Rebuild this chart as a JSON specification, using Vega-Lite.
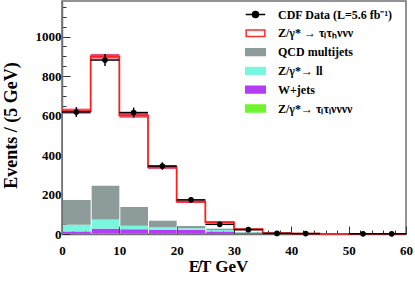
{
  "$schema": "https://vega.github.io/schema/vega-lite/v6.json",
  "width": 344,
  "height": 233,
  "autosize": "none",
  "padding": {"left": 62, "top": 1, "right": 9, "bottom": 52},
  "background": "white",
  "config": {
    "view": {"stroke": "#707070", "strokeWidth": 1.5},
    "axis": {"grid": false},
    "legend": {"orient": "none", "legendX": 184, "legendY": 4, "padding": 0,
      "symbolSize": 289, "symbolStrokeWidth": 1.5, "symbolOpacity": 1,
      "labelFont": "Liberation Serif", "labelFontWeight": "bold", "labelFontSize": 12, "labelColor": "black",
      "labelOffset": 13, "rowPadding": 2.8, "labelLimit": 300}
  },
  "datasets": {
    "stack": [
      {"lo": 0, "hi": 5, "comp": "Z/γ*→ τₗτₗνννν", "ord": 1, "n": 2},
      {"lo": 0, "hi": 5, "comp": "W+jets", "ord": 2, "n": 11},
      {"lo": 0, "hi": 5, "comp": "Z/γ*→ ll", "ord": 3, "n": 34},
      {"lo": 0, "hi": 5, "comp": "QCD multijets", "ord": 4, "n": 126},
      {"lo": 0, "hi": 5, "comp": "Z/γ* → τₗτₕννν", "ord": 5, "n": 449},
      {"lo": 5, "hi": 10, "comp": "Z/γ*→ τₗτₗνννν", "ord": 1, "n": 3},
      {"lo": 5, "hi": 10, "comp": "W+jets", "ord": 2, "n": 24},
      {"lo": 5, "hi": 10, "comp": "Z/γ*→ ll", "ord": 3, "n": 47},
      {"lo": 5, "hi": 10, "comp": "QCD multijets", "ord": 4, "n": 172},
      {"lo": 5, "hi": 10, "comp": "Z/γ* → τₗτₕννν", "ord": 5, "n": 654},
      {"lo": 10, "hi": 15, "comp": "Z/γ*→ τₗτₗνννν", "ord": 1, "n": 3},
      {"lo": 10, "hi": 15, "comp": "W+jets", "ord": 2, "n": 21},
      {"lo": 10, "hi": 15, "comp": "Z/γ*→ ll", "ord": 3, "n": 18},
      {"lo": 10, "hi": 15, "comp": "QCD multijets", "ord": 4, "n": 95},
      {"lo": 10, "hi": 15, "comp": "Z/γ* → τₗτₕννν", "ord": 5, "n": 464},
      {"lo": 15, "hi": 20, "comp": "Z/γ*→ τₗτₗνννν", "ord": 1, "n": 2},
      {"lo": 15, "hi": 20, "comp": "W+jets", "ord": 2, "n": 20},
      {"lo": 15, "hi": 20, "comp": "Z/γ*→ ll", "ord": 3, "n": 12},
      {"lo": 15, "hi": 20, "comp": "QCD multijets", "ord": 4, "n": 35},
      {"lo": 15, "hi": 20, "comp": "Z/γ* → τₗτₕννν", "ord": 5, "n": 270},
      {"lo": 20, "hi": 25, "comp": "Z/γ*→ τₗτₗνννν", "ord": 1, "n": 2},
      {"lo": 20, "hi": 25, "comp": "W+jets", "ord": 2, "n": 19},
      {"lo": 20, "hi": 25, "comp": "Z/γ*→ ll", "ord": 3, "n": 8},
      {"lo": 20, "hi": 25, "comp": "QCD multijets", "ord": 4, "n": 12},
      {"lo": 20, "hi": 25, "comp": "Z/γ* → τₗτₕννν", "ord": 5, "n": 123},
      {"lo": 25, "hi": 30, "comp": "Z/γ*→ τₗτₗνννν", "ord": 1, "n": 1},
      {"lo": 25, "hi": 30, "comp": "W+jets", "ord": 2, "n": 12},
      {"lo": 25, "hi": 30, "comp": "Z/γ*→ ll", "ord": 3, "n": 7},
      {"lo": 25, "hi": 30, "comp": "QCD multijets", "ord": 4, "n": 8},
      {"lo": 25, "hi": 30, "comp": "Z/γ* → τₗτₕννν", "ord": 5, "n": 32},
      {"lo": 30, "hi": 35, "comp": "Z/γ*→ τₗτₗνννν", "ord": 1, "n": 1},
      {"lo": 30, "hi": 35, "comp": "W+jets", "ord": 2, "n": 4},
      {"lo": 30, "hi": 35, "comp": "Z/γ*→ ll", "ord": 3, "n": 3},
      {"lo": 30, "hi": 35, "comp": "QCD multijets", "ord": 4, "n": 3},
      {"lo": 30, "hi": 35, "comp": "Z/γ* → τₗτₕννν", "ord": 5, "n": 13},
      {"lo": 35, "hi": 40, "comp": "Z/γ*→ τₗτₗνννν", "ord": 1, "n": 0.5},
      {"lo": 35, "hi": 40, "comp": "W+jets", "ord": 2, "n": 0.5},
      {"lo": 35, "hi": 40, "comp": "Z/γ*→ ll", "ord": 3, "n": 1},
      {"lo": 35, "hi": 40, "comp": "QCD multijets", "ord": 4, "n": 1},
      {"lo": 35, "hi": 40, "comp": "Z/γ* → τₗτₕννν", "ord": 5, "n": 1},
      {"lo": 40, "hi": 45, "comp": "W+jets", "ord": 2, "n": 0.5},
      {"lo": 40, "hi": 45, "comp": "Z/γ*→ ll", "ord": 3, "n": 0.5},
      {"lo": 40, "hi": 45, "comp": "QCD multijets", "ord": 4, "n": 0.5},
      {"lo": 40, "hi": 45, "comp": "Z/γ* → τₗτₕννν", "ord": 5, "n": 0.5}
    ],
    "legendrows": [
      {"comp": "CDF Data (L=5.6 fb⁻¹)"},
      {"comp": "Z/γ* → τₗτₕννν"},
      {"comp": "QCD multijets"},
      {"comp": "Z/γ*→ ll"},
      {"comp": "W+jets"},
      {"comp": "Z/γ*→ τₗτₗνννν"}
    ],
    "mc": [
      {"x": 0, "total": 622}, {"x": 5, "total": 900}, {"x": 10, "total": 601},
      {"x": 15, "total": 339}, {"x": 20, "total": 164}, {"x": 25, "total": 60},
      {"x": 30, "total": 24}, {"x": 35, "total": 4}, {"x": 40, "total": 2},
      {"x": 45, "total": 1}, {"x": 50, "total": 0.5}, {"x": 55, "total": 0.3},
      {"x": 60, "total": 0.3}
    ],
    "band": [
      {"lo": 0, "hi": 5, "blo": 609, "bhi": 635},
      {"lo": 5, "hi": 10, "blo": 888, "bhi": 912},
      {"lo": 10, "hi": 15, "blo": 589, "bhi": 613},
      {"lo": 15, "hi": 20, "blo": 329, "bhi": 349},
      {"lo": 20, "hi": 25, "blo": 157, "bhi": 171},
      {"lo": 25, "hi": 30, "blo": 55, "bhi": 65},
      {"lo": 30, "hi": 35, "blo": 21, "bhi": 27},
      {"lo": 35, "hi": 40, "blo": 2, "bhi": 6},
      {"lo": 40, "hi": 45, "blo": 1, "bhi": 3}
    ],
    "cdf": [
      {"c": 2.5, "lo": 0, "hi": 5, "n": 618, "elo": 593, "ehi": 643},
      {"c": 7.5, "lo": 5, "hi": 10, "n": 881, "elo": 851, "ehi": 911},
      {"c": 12.5, "lo": 10, "hi": 15, "n": 615, "elo": 590, "ehi": 640},
      {"c": 17.5, "lo": 15, "hi": 20, "n": 344, "elo": 325, "ehi": 363},
      {"c": 22.5, "lo": 20, "hi": 25, "n": 173, "elo": 160, "ehi": 186},
      {"c": 27.5, "lo": 25, "hi": 30, "n": 49, "elo": 42, "ehi": 56},
      {"c": 32.5, "lo": 30, "hi": 35, "n": 22, "elo": 17, "ehi": 27},
      {"c": 37.5, "lo": 35, "hi": 40, "n": 3, "elo": 1, "ehi": 5},
      {"c": 42.5, "lo": 40, "hi": 45, "n": 2, "elo": 0.5, "ehi": 3.5},
      {"c": 52.5, "lo": 50, "hi": 55, "n": 1, "elo": 0, "ehi": 2},
      {"c": 57.5, "lo": 55, "hi": 60, "n": 1, "elo": 0, "ehi": 2}
    ]
  },
  "layer": [
    {
      "data": {"name": "stack"},
      "mark": {"type": "bar"},
      "encoding": {
        "x": {"field": "lo", "type": "quantitative", "bin": "binned", "title": "E̸T GeV", "scale": {"domain": [0, 60], "nice": false, "zero": false},
          "axis": {"values": [0,2,4,6,8,10,12,14,16,18,20,22,24,26,28,30,32,34,36,38,40,42,44,46,48,50,52,54,56,58,60], "labelExpr": "datum.value % 10 === 0 ? datum.label : ''", "labelOverlap": false, "tickSize": {"condition": {"test": "datum.value % 10 === 0", "value": -8}, "value": -4}, "tickColor": "#333333", "domainColor": "#707070", "domainWidth": 1.5, "labelFont": "Liberation Serif", "labelFontWeight": "bold", "labelFontSize": 13, "labelColor": "black", "labelPadding": 18, "labelFlush": false, "titleFont": "Liberation Serif", "titleFontWeight": "bold", "titleFontSize": 17, "titleColor": "black", "titleX": 156, "titleY": 37, "titleBaseline": "alphabetic", "titleAlign": "center"}},
        "x2": {"field": "hi"},
        "y": {"field": "n", "type": "quantitative", "stack": "zero", "title": "Events / (5 GeV)", "scale": {"domain": [0, 1180], "nice": false},
          "axis": {"values": [0,50,100,150,200,250,300,350,400,450,500,550,600,650,700,750,800,850,900,950,1000,1050,1100,1150], "format": "d", "labelExpr": "datum.value % 200 === 0 ? datum.label : ''", "labelOverlap": false, "tickSize": {"condition": {"test": "datum.value % 200 === 0", "value": -8}, "value": -4}, "tickColor": "#333333", "domainColor": "#707070", "domainWidth": 1.5, "labelFont": "Liberation Serif", "labelFontWeight": "bold", "labelFontSize": 13, "labelColor": "black", "labelPadding": 9, "titleFont": "Liberation Serif", "titleFontWeight": "bold", "titleFontSize": 18, "titleColor": "black", "titleX": -46, "titleY": 124, "titleAngle": 270, "titleBaseline": "alphabetic", "titleAlign": "center"}},
        "order": {"field": "ord"},
        "color": {"field": "comp", "type": "nominal", "title": null,
          "scale": {"domain": ["CDF Data (L=5.6 fb⁻¹)", "Z/γ* → τₗτₕννν", "QCD multijets", "Z/γ*→ ll", "W+jets", "Z/γ*→ τₗτₗνννν"], "range": ["#000000", "#ffffff", "#8d9c9a", "#78f7de", "#b43cf2", "#6ef52c"]}}
      }
    },
    {
      "data": {"name": "band"},
      "mark": {"type": "rect", "color": "#dc2a56", "opacity": 0.8},
      "encoding": {
        "x": {"field": "lo", "type": "quantitative", "title": "E̸T GeV", "scale": {"domain": [0, 60], "nice": false, "zero": false},
          "axis": {"values": [0,2,4,6,8,10,12,14,16,18,20,22,24,26,28,30,32,34,36,38,40,42,44,46,48,50,52,54,56,58,60], "labelExpr": "datum.value % 10 === 0 ? datum.label : ''", "labelOverlap": false, "tickSize": {"condition": {"test": "datum.value % 10 === 0", "value": -8}, "value": -4}, "tickColor": "#333333", "domainColor": "#707070", "domainWidth": 1.5, "labelFont": "Liberation Serif", "labelFontWeight": "bold", "labelFontSize": 13, "labelColor": "black", "labelPadding": 18, "labelFlush": false, "titleFont": "Liberation Serif", "titleFontWeight": "bold", "titleFontSize": 17, "titleColor": "black", "titleX": 156, "titleY": 37, "titleBaseline": "alphabetic", "titleAlign": "center"}},
        "x2": {"field": "hi"},
        "y": {"field": "blo", "type": "quantitative", "title": "Events / (5 GeV)", "scale": {"domain": [0, 1180], "nice": false},
          "axis": {"values": [0,50,100,150,200,250,300,350,400,450,500,550,600,650,700,750,800,850,900,950,1000,1050,1100,1150], "format": "d", "labelExpr": "datum.value % 200 === 0 ? datum.label : ''", "labelOverlap": false, "tickSize": {"condition": {"test": "datum.value % 200 === 0", "value": -8}, "value": -4}, "tickColor": "#333333", "domainColor": "#707070", "domainWidth": 1.5, "labelFont": "Liberation Serif", "labelFontWeight": "bold", "labelFontSize": 13, "labelColor": "black", "labelPadding": 9, "titleFont": "Liberation Serif", "titleFontWeight": "bold", "titleFontSize": 18, "titleColor": "black", "titleX": -46, "titleY": 124, "titleAngle": 270, "titleBaseline": "alphabetic", "titleAlign": "center"}},
        "y2": {"field": "bhi"}
      }
    },
    {
      "data": {"name": "mc"},
      "mark": {"type": "line", "interpolate": "step-after", "color": "#ff1f1f", "strokeWidth": 1.8},
      "encoding": {
        "x": {"field": "x", "type": "quantitative", "title": "E̸T GeV", "scale": {"domain": [0, 60], "nice": false, "zero": false},
          "axis": {"values": [0,2,4,6,8,10,12,14,16,18,20,22,24,26,28,30,32,34,36,38,40,42,44,46,48,50,52,54,56,58,60], "labelExpr": "datum.value % 10 === 0 ? datum.label : ''", "labelOverlap": false, "tickSize": {"condition": {"test": "datum.value % 10 === 0", "value": -8}, "value": -4}, "tickColor": "#333333", "domainColor": "#707070", "domainWidth": 1.5, "labelFont": "Liberation Serif", "labelFontWeight": "bold", "labelFontSize": 13, "labelColor": "black", "labelPadding": 18, "labelFlush": false, "titleFont": "Liberation Serif", "titleFontWeight": "bold", "titleFontSize": 17, "titleColor": "black", "titleX": 156, "titleY": 37, "titleBaseline": "alphabetic", "titleAlign": "center"}},
        "y": {"field": "total", "type": "quantitative", "title": "Events / (5 GeV)", "scale": {"domain": [0, 1180], "nice": false},
          "axis": {"values": [0,50,100,150,200,250,300,350,400,450,500,550,600,650,700,750,800,850,900,950,1000,1050,1100,1150], "format": "d", "labelExpr": "datum.value % 200 === 0 ? datum.label : ''", "labelOverlap": false, "tickSize": {"condition": {"test": "datum.value % 200 === 0", "value": -8}, "value": -4}, "tickColor": "#333333", "domainColor": "#707070", "domainWidth": 1.5, "labelFont": "Liberation Serif", "labelFontWeight": "bold", "labelFontSize": 13, "labelColor": "black", "labelPadding": 9, "titleFont": "Liberation Serif", "titleFontWeight": "bold", "titleFontSize": 18, "titleColor": "black", "titleX": -46, "titleY": 124, "titleAngle": 270, "titleBaseline": "alphabetic", "titleAlign": "center"}}
      }
    },
    {
      "data": {"name": "cdf"},
      "mark": {"type": "rule", "color": "#000000", "strokeWidth": 1.5},
      "encoding": {
        "x": {"field": "lo", "type": "quantitative", "title": "E̸T GeV", "scale": {"domain": [0, 60], "nice": false, "zero": false},
          "axis": {"values": [0,2,4,6,8,10,12,14,16,18,20,22,24,26,28,30,32,34,36,38,40,42,44,46,48,50,52,54,56,58,60], "labelExpr": "datum.value % 10 === 0 ? datum.label : ''", "labelOverlap": false, "tickSize": {"condition": {"test": "datum.value % 10 === 0", "value": -8}, "value": -4}, "tickColor": "#333333", "domainColor": "#707070", "domainWidth": 1.5, "labelFont": "Liberation Serif", "labelFontWeight": "bold", "labelFontSize": 13, "labelColor": "black", "labelPadding": 18, "labelFlush": false, "titleFont": "Liberation Serif", "titleFontWeight": "bold", "titleFontSize": 17, "titleColor": "black", "titleX": 156, "titleY": 37, "titleBaseline": "alphabetic", "titleAlign": "center"}},
        "x2": {"field": "hi"},
        "y": {"field": "n", "type": "quantitative", "title": "Events / (5 GeV)", "scale": {"domain": [0, 1180], "nice": false},
          "axis": {"values": [0,50,100,150,200,250,300,350,400,450,500,550,600,650,700,750,800,850,900,950,1000,1050,1100,1150], "format": "d", "labelExpr": "datum.value % 200 === 0 ? datum.label : ''", "labelOverlap": false, "tickSize": {"condition": {"test": "datum.value % 200 === 0", "value": -8}, "value": -4}, "tickColor": "#333333", "domainColor": "#707070", "domainWidth": 1.5, "labelFont": "Liberation Serif", "labelFontWeight": "bold", "labelFontSize": 13, "labelColor": "black", "labelPadding": 9, "titleFont": "Liberation Serif", "titleFontWeight": "bold", "titleFontSize": 18, "titleColor": "black", "titleX": -46, "titleY": 124, "titleAngle": 270, "titleBaseline": "alphabetic", "titleAlign": "center"}}
      }
    },
    {
      "data": {"name": "cdf"},
      "mark": {"type": "rule", "color": "#000000", "strokeWidth": 1.5},
      "encoding": {
        "x": {"field": "c", "type": "quantitative", "title": "E̸T GeV", "scale": {"domain": [0, 60], "nice": false, "zero": false},
          "axis": {"values": [0,2,4,6,8,10,12,14,16,18,20,22,24,26,28,30,32,34,36,38,40,42,44,46,48,50,52,54,56,58,60], "labelExpr": "datum.value % 10 === 0 ? datum.label : ''", "labelOverlap": false, "tickSize": {"condition": {"test": "datum.value % 10 === 0", "value": -8}, "value": -4}, "tickColor": "#333333", "domainColor": "#707070", "domainWidth": 1.5, "labelFont": "Liberation Serif", "labelFontWeight": "bold", "labelFontSize": 13, "labelColor": "black", "labelPadding": 18, "labelFlush": false, "titleFont": "Liberation Serif", "titleFontWeight": "bold", "titleFontSize": 17, "titleColor": "black", "titleX": 156, "titleY": 37, "titleBaseline": "alphabetic", "titleAlign": "center"}},
        "y": {"field": "elo", "type": "quantitative", "title": "Events / (5 GeV)", "scale": {"domain": [0, 1180], "nice": false},
          "axis": {"values": [0,50,100,150,200,250,300,350,400,450,500,550,600,650,700,750,800,850,900,950,1000,1050,1100,1150], "format": "d", "labelExpr": "datum.value % 200 === 0 ? datum.label : ''", "labelOverlap": false, "tickSize": {"condition": {"test": "datum.value % 200 === 0", "value": -8}, "value": -4}, "tickColor": "#333333", "domainColor": "#707070", "domainWidth": 1.5, "labelFont": "Liberation Serif", "labelFontWeight": "bold", "labelFontSize": 13, "labelColor": "black", "labelPadding": 9, "titleFont": "Liberation Serif", "titleFontWeight": "bold", "titleFontSize": 18, "titleColor": "black", "titleX": -46, "titleY": 124, "titleAngle": 270, "titleBaseline": "alphabetic", "titleAlign": "center"}},
        "y2": {"field": "ehi"}
      }
    },
    {
      "data": {"name": "cdf"},
      "mark": {"type": "circle", "color": "#000000", "size": 32, "opacity": 1},
      "encoding": {
        "x": {"field": "c", "type": "quantitative", "title": "E̸T GeV", "scale": {"domain": [0, 60], "nice": false, "zero": false},
          "axis": {"values": [0,2,4,6,8,10,12,14,16,18,20,22,24,26,28,30,32,34,36,38,40,42,44,46,48,50,52,54,56,58,60], "labelExpr": "datum.value % 10 === 0 ? datum.label : ''", "labelOverlap": false, "tickSize": {"condition": {"test": "datum.value % 10 === 0", "value": -8}, "value": -4}, "tickColor": "#333333", "domainColor": "#707070", "domainWidth": 1.5, "labelFont": "Liberation Serif", "labelFontWeight": "bold", "labelFontSize": 13, "labelColor": "black", "labelPadding": 18, "labelFlush": false, "titleFont": "Liberation Serif", "titleFontWeight": "bold", "titleFontSize": 17, "titleColor": "black", "titleX": 156, "titleY": 37, "titleBaseline": "alphabetic", "titleAlign": "center"}},
        "y": {"field": "n", "type": "quantitative", "title": "Events / (5 GeV)", "scale": {"domain": [0, 1180], "nice": false},
          "axis": {"values": [0,50,100,150,200,250,300,350,400,450,500,550,600,650,700,750,800,850,900,950,1000,1050,1100,1150], "format": "d", "labelExpr": "datum.value % 200 === 0 ? datum.label : ''", "labelOverlap": false, "tickSize": {"condition": {"test": "datum.value % 200 === 0", "value": -8}, "value": -4}, "tickColor": "#333333", "domainColor": "#707070", "domainWidth": 1.5, "labelFont": "Liberation Serif", "labelFontWeight": "bold", "labelFontSize": 13, "labelColor": "black", "labelPadding": 9, "titleFont": "Liberation Serif", "titleFontWeight": "bold", "titleFontSize": 18, "titleColor": "black", "titleX": -46, "titleY": 124, "titleAngle": 270, "titleBaseline": "alphabetic", "titleAlign": "center"}}
      }
    },
    {
      "data": {"name": "legendrows"},
      "mark": {"type": "point", "filled": true, "opacity": 0, "strokeWidth": 1.5},
      "encoding": {
        "color": {"field": "comp", "type": "nominal", "title": null,
          "scale": {"domain": ["CDF Data (L=5.6 fb⁻¹)", "Z/γ* → τₗτₕννν", "QCD multijets", "Z/γ*→ ll", "W+jets", "Z/γ*→ τₗτₗνννν"], "range": ["#000000", "#ffffff", "#8d9c9a", "#78f7de", "#b43cf2", "#6ef52c"]}},
        "shape": {"field": "comp", "type": "nominal", "title": null,
          "scale": {"domain": ["CDF Data (L=5.6 fb⁻¹)", "Z/γ* → τₗτₕννν", "QCD multijets", "Z/γ*→ ll", "W+jets", "Z/γ*→ τₗτₗνννν"],
            "range": ["M-1.15,0H1.15M-0.35,0A0.35,0.35,0,1,1,0.35,0A0.35,0.35,0,1,1,-0.35,0Z", "M-1.1,-0.38H1.1V0.38H-1.1Z", "M-1.15,-0.4H1.15V0.4H-1.15Z", "M-1.15,-0.4H1.15V0.4H-1.15Z", "M-1.15,-0.4H1.15V0.4H-1.15Z", "M-1.15,-0.4H1.15V0.4H-1.15Z"]}},
        "stroke": {"field": "comp", "type": "nominal", "title": null,
          "scale": {"domain": ["CDF Data (L=5.6 fb⁻¹)", "Z/γ* → τₗτₕννν", "QCD multijets", "Z/γ*→ ll", "W+jets", "Z/γ*→ τₗτₗνννν"], "range": ["#000000", "#ff2a2a", "#8d9c9a", "#78f7de", "#b43cf2", "#6ef52c"]}}
      }
    }
  ]
}
